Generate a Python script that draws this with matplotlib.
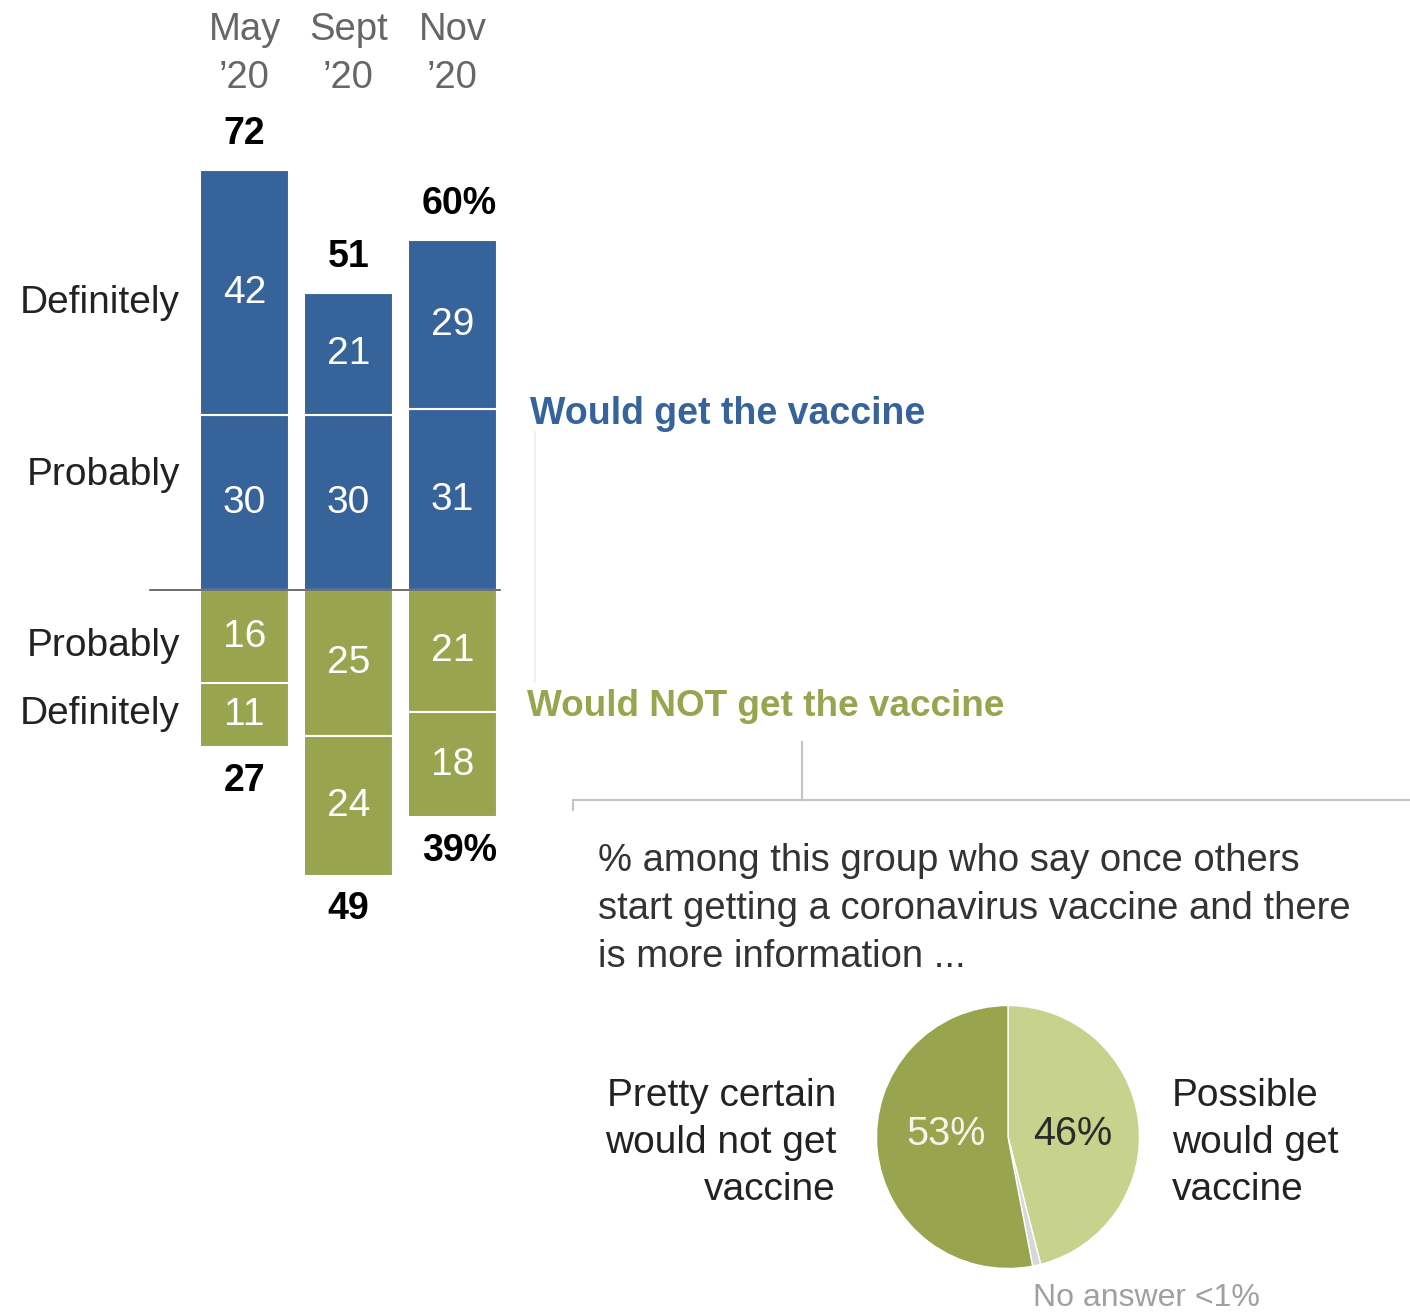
import matplotlib
matplotlib.use("Agg")
import matplotlib.pyplot as plt
from matplotlib.lines import Line2D
from matplotlib.transforms import blended_transform_factory

plt.rcParams['font.family'] = ['Liberation Sans', 'DejaVu Sans']

# ---------------- data ----------------
periods = ["May\n\u201920", "Sept\n\u201920", "Nov\n\u201920"]
would_definitely = [42, 21, 29]
would_probably = [30, 30, 31]
not_probably = [16, 25, 21]
not_definitely = [11, 24, 18]
total_suffix = ["", "", "%"]

pie_labels = ["Possible would get vaccine", "No answer", "Pretty certain would not get vaccine"]
pie_values = [46, 1, 53]

# ---------------- style ----------------
BLUE = "#36649a"
GREEN = "#98a44e"
LIGHT_GREEN = "#c7d28c"
GRAY_SLICE = "#d8d8d8"
TXT = "#222222"
HDR = "#666666"

W, H = 1410, 1313
fig = plt.figure(figsize=(W / 100, H / 100), dpi=100)


def fx(x):
    return x / W


def fy(y):
    return 1 - y / H


# bar axes: x -0.5..2.5 maps to 192.5..504.5 px; baseline (0) at 590 px, 5.83 px/unit
ylo, yhi = -55, 80
ppu = 5.83
x0_px, x1_px = 192.5, 504.5
top_px = 590 - yhi * ppu
bot_px = 590 - ylo * ppu
ax = fig.add_axes([fx(x0_px), fy(bot_px), fx(x1_px) - fx(x0_px), (bot_px - top_px) / H])
ax.set_xlim(-0.5, 2.5)
ax.set_ylim(ylo, yhi)
ax.axis("off")

xs = list(range(len(periods)))
bw = 0.865
kw = dict(width=bw, edgecolor="white", linewidth=1.5)
ax.bar(xs, would_probably, bottom=0, color=BLUE, **kw)
ax.bar(xs, would_definitely, bottom=would_probably, color=BLUE, **kw)
neg_prob = [-v for v in not_probably]
neg_def = [-v for v in not_definitely]
ax.bar(xs, neg_prob, bottom=0, color=GREEN, **kw)
ax.bar(xs, neg_def, bottom=neg_prob, color=GREEN, **kw)

num_fs = 28
tot_fs = 27
for i in xs:
    ax.text(i, would_probably[i] / 2, str(would_probably[i]), ha="center", va="center",
            color="white", fontsize=num_fs)
    ax.text(i, would_probably[i] + would_definitely[i] / 2, str(would_definitely[i]),
            ha="center", va="center", color="white", fontsize=num_fs)
    ax.text(i, -not_probably[i] / 2, str(not_probably[i]), ha="center", va="center",
            color="white", fontsize=num_fs)
    ax.text(i, -not_probably[i] - not_definitely[i] / 2, str(not_definitely[i]),
            ha="center", va="center", color="white", fontsize=num_fs)
    top = would_probably[i] + would_definitely[i]
    bot = not_probably[i] + not_definitely[i]
    dx = 5 if total_suffix[i] else 0
    ax.annotate(f"{top}{total_suffix[i]}", (i, top), xytext=(dx, 26), textcoords="offset points",
                ha="center", va="center", fontsize=tot_fs, fontweight="bold", color="black")
    ax.annotate(f"{bot}{total_suffix[i]}", (i, -bot), xytext=(dx, -24), textcoords="offset points",
                ha="center", va="center", fontsize=tot_fs, fontweight="bold", color="black")

# headers
tr = blended_transform_factory(ax.transData, fig.transFigure)
for i, p in enumerate(periods):
    ax.text(i, fy(54), p, transform=tr, ha="center", va="center", fontsize=27.5,
            color=HDR, linespacing=1.4)

# baseline
fig.add_artist(Line2D([fx(150), fx(500)], [fy(590), fy(590)], color="#555555", lw=1.2))

# row labels
lab_fs = 28
for txt, y in [("Definitely", 303), ("Probably", 475), ("Probably", 646), ("Definitely", 714)]:
    fig.text(fx(180), fy(y), txt, ha="right", va="center", fontsize=lab_fs, color=TXT)

# category labels
fig.text(fx(530), fy(414), "Would get the vaccine", ha="left", va="center", fontsize=27,
         fontweight="bold", color=BLUE)
fig.text(fx(527), fy(707), "Would NOT get the vaccine", ha="left", va="center", fontsize=26.6,
         fontweight="bold", color=GREEN)

# faint bracket + connector lines
fig.add_artist(Line2D([fx(535), fx(535)], [fy(432), fy(682)], color="#e6eef6", lw=1.2))
fig.add_artist(Line2D([fx(802), fx(802)], [fy(742), fy(800)], color="#c4c4c4", lw=1.5))
fig.add_artist(Line2D([fx(573), fx(1410)], [fy(800), fy(800)], color="#c4c4c4", lw=1.5))
fig.add_artist(Line2D([fx(573), fx(573)], [fy(800), fy(810)], color="#c4c4c4", lw=1.5))

fig.text(fx(598), fy(909),
         "% among this group who say once others\nstart getting a coronavirus vaccine and there\nis more information ...",
         ha="left", va="center", fontsize=27.5, color="#333333", linespacing=1.44)

# pie
cx, cy, r = 1008, 1137, 131.5
pax = fig.add_axes([fx(cx - r), fy(cy + r), 2 * r / W, 2 * r / H])
pax.pie(pie_values, colors=[LIGHT_GREEN, GRAY_SLICE, GREEN], startangle=90,
        counterclock=False, wedgeprops=dict(edgecolor="white", linewidth=1))
pax.set_aspect("auto")
pax.set_xlim(-1, 1)
pax.set_ylim(-1, 1)
fig.text(fx(946), fy(1134), f"{pie_values[2]}%", ha="center", va="center", fontsize=28.5,
         color="#f4f4e8")
fig.text(fx(1073), fy(1134), f"{pie_values[0]}%", ha="center", va="center", fontsize=28.5,
         color="#2b2b2b")

fig.text(fx(836), fy(1143), "Pretty certain\nwould not get\nvaccine", ha="right", va="center",
         fontsize=28, color=TXT, linespacing=1.41, multialignment="right")
fig.text(fx(1172), fy(1143), "Possible\nwould get\nvaccine", ha="left", va="center",
         fontsize=28, color=TXT, linespacing=1.41)
fig.text(fx(1033), fy(1298), "No answer <1%", ha="left", va="center", fontsize=23,
         color="#a0a0a0")

fig.savefig("out.png", dpi=100, facecolor="white")
